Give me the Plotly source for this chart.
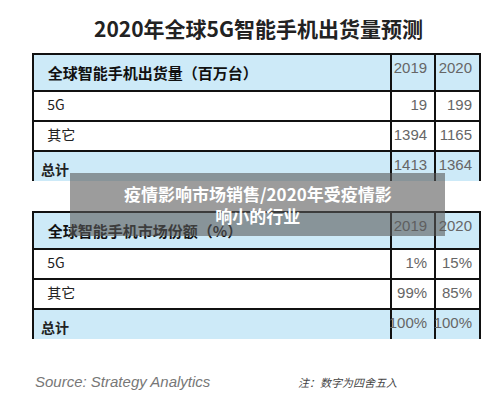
import plotly.graph_objects as go

title = "2020年全球5G智能手机出货量预测"
years = ["2019", "2020"]
head1 = "全球智能手机出货量（百万台）"
head2 = "全球智能手机市场份额（%）"
rows = ["5G", "其它", "总计"]
ship_2019 = [19, 1394, 1413]
ship_2020 = [199, 1165, 1364]
share_2019 = ["1%", "99%", "100%"]
share_2020 = ["15%", "85%", "100%"]
source = "Source: Strategy Analytics"
note = "注：数字为四舍五入"
overlay = "疫情影响市场销售/2020年受疫情影<br>响小的行业"

W, H = 500, 410
BLUE = "#cdeaf8"
CJK = "Noto Sans CJK SC"
LAT = "Liberation Sans"
fig = go.Figure()

def add_table(head, c1, c2, top):
    fills = [BLUE if r == "总计" else "white" for r in rows]
    labels = [("<b>%s</b>" % r) if r == "总计" else ("  " + r) for r in rows]
    fig.add_trace(go.Table(
        domain=dict(x=[25 / W, 473 / W], y=[(H - top - 127) / H, (H - top) / H]),
        columnwidth=[359, 44, 45],
        header=dict(values=["  <b>" + head + "</b>", years[0], years[1]],
                    fill_color=BLUE, line=dict(color="#111", width=1.5),
                    align=["left", "right", "right"], height=31,
                    font=dict(family=[CJK, LAT, LAT], size=[15, 15, 15],
                              color=["#111", "#666", "#666"])),
        cells=dict(values=[labels, [str(v) for v in c1], [str(v) for v in c2]],
                   fill_color=[fills, fills, fills], line=dict(color="#111", width=1.5),
                   align=["left", "right", "right"], height=30,
                   font=dict(family=[CJK, LAT, LAT], size=[14, 15, 15],
                             color=["#222", "#666", "#666"]))))

add_table(head1, ship_2019, ship_2020, 46)
add_table(head2, share_2019, share_2020, 204)

fig.add_annotation(text="<b>" + title + "</b>", x=0.5, y=1 - 3 / H, xref="paper", yref="paper",
                   showarrow=False, font=dict(family=CJK, size=21, color="#222"))
fig.add_annotation(text="<i>" + source + "</i>", x=25 / W, y=1 - 384 / H, xref="paper", yref="paper",
                   xanchor="left", showarrow=False, font=dict(family=LAT, size=15, color="#777"))
fig.add_annotation(text="<i>" + note + "</i>", x=288 / W, y=1 - 384 / H, xref="paper", yref="paper",
                   xanchor="left", showarrow=False, font=dict(family=CJK, size=11, color="#444"))
fig.add_shape(type="rect", xref="paper", yref="paper", x0=62 / W, x1=437 / W, y0=1 - 228 / H, y1=1 - 165 / H,
              fillcolor="rgba(90,90,90,0.6)", line=dict(width=0), layer="above")
fig.add_annotation(text="<b>" + overlay + "</b>", x=0.5, y=1 - 196 / H, xref="paper", yref="paper",
                   showarrow=False, font=dict(family=CJK, size=17, color="white"))

fig.update_layout(width=W, height=H, margin=dict(l=0, r=0, t=0, b=0),
                  paper_bgcolor="white", plot_bgcolor="white")
fig.write_html("out.html")
